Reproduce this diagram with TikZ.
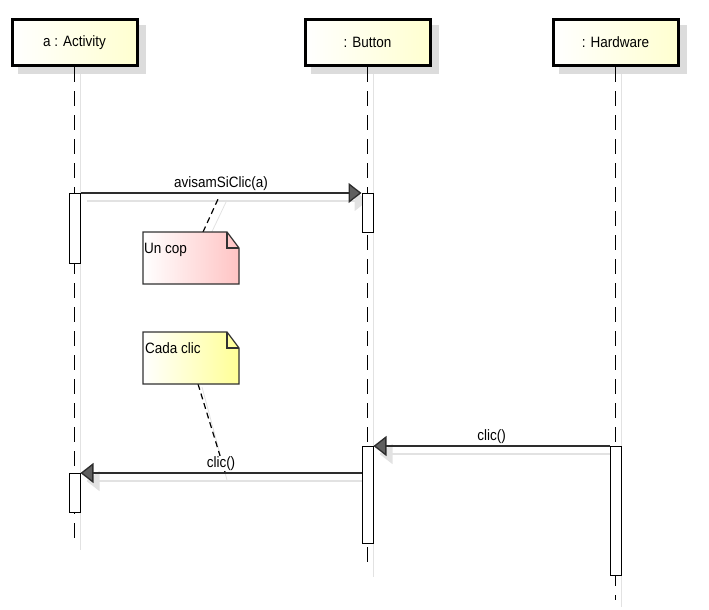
\documentclass[tikz,border=0pt]{standalone}
\usepackage{fontspec}
\setmainfont{Liberation Sans}
\newfontfamily\umlfamily[FakeStretch=0.9]{Liberation Sans}
\usetikzlibrary{arrows.meta,positioning,calc,backgrounds}
\definecolor{hdrfill}{RGB}{255,255,208}
\definecolor{shadowgrey}{RGB}{220,220,220}
\definecolor{lineshadow}{RGB}{226,226,226}
\definecolor{msgline}{RGB}{45,45,45}
\definecolor{tipfill}{RGB}{95,95,95}
\definecolor{notepink}{RGB}{255,196,196}
\definecolor{noteyellow}{RGB}{255,255,150}
\definecolor{noteedge}{RGB}{50,50,50}
\newcommand{\umlfont}{\umlfamily\fontsize{15}{17}\selectfont}
\tikzset{
  lifehead/.style={draw=black,line width=3pt,left color=white,right color=hdrfill,
                   minimum width=125pt,minimum height=46pt,inner sep=0pt,font=\umlfont},
  lifeline/.style={draw=black,line width=1.4pt,dash pattern=on 15pt off 9pt},
  lifesh/.style={draw=lineshadow,line width=1pt},
  actbar/.style={draw=black,line width=1pt,fill=white,minimum width=11pt,
                 inner sep=0pt,anchor=north},
  msg/.style={draw=msgline,line width=1.3pt,
              -{Triangle[length=13pt,width=20pt,fill=tipfill]}},
  msgsh/.style={draw=lineshadow,line width=1.3pt,
                -{Triangle[length=13pt,width=20pt,fill=lineshadow]}},
  msglabel/.style={anchor=base,yshift=6pt,fill=white,inner xsep=1pt,
                   inner ysep=0.5pt,font=\umlfont},
  notebox/.style={minimum width=96pt,minimum height=52pt,inner sep=0pt,outer sep=0pt},
  notetext/.style={anchor=base west,inner sep=0pt,font=\umlfont},
  notelink/.style={draw=black,line width=1.2pt,dash pattern=on 6pt off 4pt},
  notelinksh/.style={draw=lineshadow,line width=0.8pt},
}
% folded-corner note outline round a notebox node
\newcommand{\notepath}[1]{(#1.north west) -- ([shift={(-12,0)}]#1.north east)
  -- ([shift={(0,16)}]#1.north east) -- (#1.south east) -- (#1.south west) -- cycle}
\newcommand{\umlnote}[2]{%
  \begin{scope}[on background layer]
    \fill[shadowgrey,shift={(7,8)}] \notepath{#1};
  \end{scope}
  \path[left color=white,right color=#2,draw=noteedge,line width=1.2pt] \notepath{#1};
  \draw[noteedge,line width=1.2pt] ([shift={(-12,0)}]#1.north east)
    -- ([shift={(-12,16)}]#1.north east) -- ([shift={(0,16)}]#1.north east);
}

\begin{document}
\begin{tikzpicture}[x=1pt,y=-1pt]
  \useasboundingbox (0,0) rectangle (709,610);

  % lifeline heads
  \node[lifehead] (act) at (74.5,42.5)  {a : Activity};
  \node[lifehead] (btn) at (367.5,42.5) {: Button};
  \node[lifehead] (hw)  at (615.5,42.5) {: Hardware};

  \coordinate (actEnd) at (act.south |- 0,543);
  \coordinate (btnEnd) at (btn.south |- 0,570);
  \coordinate (hwEnd)  at (hw.south |- 0,600);

  \begin{scope}[on background layer]
    \foreach \h/\e in {act/actEnd,btn/btnEnd,hw/hwEnd}{
      \fill[shadowgrey] ([shift={(7,7)}]\h.north west) rectangle ([shift={(7,7)}]\h.south east);
      \draw[lifesh] ([shift={(6,7)}]\h.south) -- ([shift={(6,7)}]\e);
    }
  \end{scope}

  \draw[lifeline] (act.south) -- (actEnd);
  \draw[lifeline] (btn.south) -- (btnEnd);
  \draw[lifeline] (hw.south) -- (hwEnd);

  % activations
  \node[actbar,minimum height=70pt]  (actA1) at (act.south |- 0,193) {};
  \node[actbar,minimum height=39pt]  (btnA1) at (btn.south |- 0,193) {};
  \node[actbar,minimum height=129pt] (hwA)   at (hw.south |- 0,446)  {};
  \node[actbar,minimum height=97pt]  (btnA2) at (btn.south |- 0,446) {};
  \node[actbar,minimum height=39pt]  (actA2) at (act.south |- 0,473) {};

  % notes
  \node[notebox] (uncop) at (191,258) {};
  \node[notebox] (cada)  at (191,358) {};
  \coordinate (m1c) at (219,197);
  \coordinate (m3c) at (225,472);

  \begin{scope}[on background layer]
    \draw[notelinksh] ([shift={(65,8)}]uncop.north west) -- ([shift={(8,3)}]m1c);
    \draw[notelinksh] ([shift={(59,3)}]cada.south west) -- ([shift={(2,8)}]m3c);
    \draw[msgsh] ([shift={(6,8)}]actA1.north east) -- ([shift={(6,8)}]btnA1.north west);
    \draw[msgsh] ([shift={(6,8)}]hwA.north west) -- ([shift={(6,8)}]btnA2.north east);
    \draw[msgsh] ([shift={(6,8)}]btnA2.west |- actA2.north) -- ([shift={(6,8)}]actA2.north east);
  \end{scope}

  \draw[notelink] ([shift={(60,0)}]uncop.north west) -- (m1c);
  \draw[notelink] ([shift={(55,0)}]cada.south west) -- (m3c);

  \umlnote{uncop}{notepink}
  \umlnote{cada}{noteyellow}
  \node[notetext] (uncopt) at ([shift={(1,21)}]uncop.north west) {Un cop};
  \node[notetext] (cadat)  at ([shift={(2,21)}]cada.north west)  {Cada clic};

  % messages
  \draw[msg] (actA1.north east) -- node[msglabel] {avisamSiClic(a)} (btnA1.north west);
  \draw[msg] (hwA.north west) -- node[msglabel] {clic()} (btnA2.north east);
  \draw[msg] (btnA2.west |- actA2.north) -- node[msglabel] {clic()} (actA2.north east);
\end{tikzpicture}
\end{document}
